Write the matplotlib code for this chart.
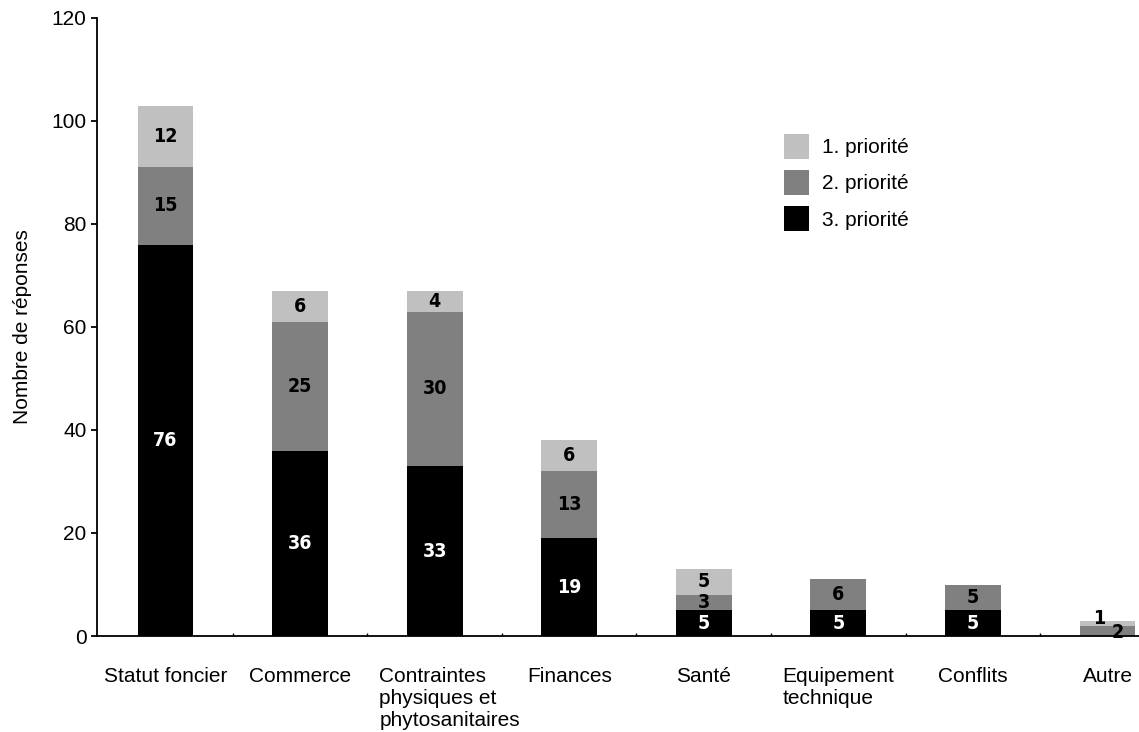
import matplotlib
matplotlib.use('Agg')
import matplotlib.pyplot as plt
import matplotlib.transforms as mtransforms
from matplotlib import font_manager
import numpy as np

# ---- data ----
categories = ['Statut foncier', 'Commerce', 'Contraintes\nphysiques et\nphytosanitaires',
              'Finances', 'Santé', 'Equipement\ntechnique', 'Conflits', 'Autre']
prio3 = [76, 36, 33, 19, 5, 5, 5, 0]
prio2 = [15, 25, 30, 13, 3, 6, 5, 2]
prio1 = [12, 6, 4, 6, 5, 0, 0, 1]
series_names = ['1. priorité', '2. priorité', '3. priorité']
yticks = [0, 20, 40, 60, 80, 100, 120]
ylabel = 'Nombre de réponses'

plt.rcParams['font.family'] = ['Liberation Sans', 'DejaVu Sans']
plt.rcParams['font.size'] = 15

W, H = 1139, 732
fig = plt.figure(figsize=(W / 100, H / 100), dpi=100)
ax = fig.add_axes([97 / W, (H - 636) / H, 1079 / W, 618 / H])

x = np.arange(len(categories))
bw = 0.416
c1, c2, c3 = '#C0C0C0', '#808080', '#000000'
p3 = np.array(prio3)
p2 = np.array(prio2)
p1 = np.array(prio1)
b3 = ax.bar(x, p3, bw, color=c3, label=series_names[2], zorder=2)
b2 = ax.bar(x, p2, bw, bottom=p3, color=c2, label=series_names[1], zorder=2)
b1 = ax.bar(x, p1, bw, bottom=p3 + p2, color=c1, label=series_names[0], zorder=2)

# pick a condensed bold face if one is installed
names = {f.name for f in font_manager.fontManager.ttflist}
cond = [f for f in font_manager.fontManager.ttflist
        if ('Narrow' in f.name or 'Condensed' in f.name or f.stretch in ('condensed', 'semi-condensed'))
        and f.weight in ('bold', 700)]
if 'Liberation Sans Narrow' in names:
    valfont = dict(family='Liberation Sans Narrow', weight='bold', size=14)
elif cond:
    valfont = dict(fontproperties=font_manager.FontProperties(fname=cond[0].fname, size=14))
else:
    valfont = dict(family='Liberation Sans', weight='bold', size=13.5)

def label_segments(vals, bottoms, color, special=None):
    for i, (v, b) in enumerate(zip(vals, bottoms)):
        if v <= 0:
            continue
        off = (0, 0)
        if special and i in special:
            off = special[i]
        ax.annotate(str(v), (x[i], b + v / 2), xytext=off, textcoords='offset points',
                    ha='center', va='center', color=color, zorder=3, **valfont)

last = len(categories) - 1
label_segments(p3, np.zeros_like(p3), 'white')
label_segments(p2, p3, 'black', special={last: (7, -1)})
label_segments(p1, p3 + p2, 'black', special={last: (-6, 3)})

ax.set_xlim(-0.509, len(categories) - 1 + 0.509)
ax.set_ylim(0, 120)
ax.set_yticks(yticks)
ax.set_xticks(x)
ax.set_xticklabels(categories, multialignment='left', linespacing=1.2)
ax.set_xticks(x[:-1] + 0.5, minor=True)

for s in ['top', 'right']:
    ax.spines[s].set_visible(False)
for s in ['left', 'bottom']:
    ax.spines[s].set_linewidth(1.3)

ax.tick_params(axis='y', direction='out', length=4.5, width=1.3, pad=3)
ax.tick_params(axis='x', which='major', length=0, pad=22)
ax.tick_params(axis='x', which='minor', direction='in', length=2.5, width=1.0)

# shift the wrapped third label slightly right as in the reference
lbl = ax.get_xticklabels()[2]
lbl.set_transform(lbl.get_transform() + mtransforms.ScaledTranslation(15 / 100, 0, fig.dpi_scale_trans))

ax.set_ylabel(ylabel, labelpad=14)

ax.legend(handles=[b1, b2, b3], labels=series_names, loc='upper left',
          bbox_to_anchor=(784 / W, 1 - 134 / H), bbox_transform=fig.transFigure,
          frameon=False, borderpad=0, borderaxespad=0, handlelength=1.2, handleheight=1.45,
          handletextpad=0.6, labelspacing=0.55)

fig.savefig('out.png', dpi=100)
